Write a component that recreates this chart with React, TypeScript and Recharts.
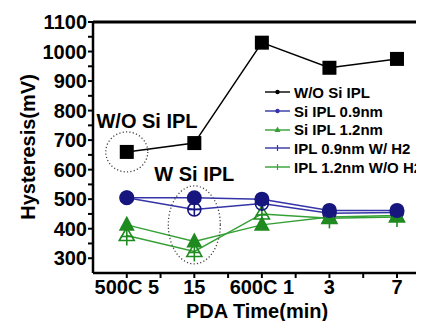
import React from 'react';
import { LineChart, Line, XAxis, YAxis, ReferenceLine, ReferenceDot } from 'recharts';

const categories = ['500C 5', '15', '600C 1', '3', '7'];
const woSiIpl = [660, 690, 1030, 945, 975];
const siIpl09 = [505, 505, 500, 462, 462];
const siIpl12 = [413, 357, 413, 440, 445];
const ipl09H2 = [505, 465, 485, 452, 455];
const ipl12NoH2 = [377, 323, 450, 435, 440];
const yTicks = [300, 350, 400, 450, 500, 550, 600, 650, 700, 750, 800, 850, 900, 950, 1000, 1050, 1100];
const xTicks = [0, 0.5, 1, 1.5, 2, 2.5, 3, 3.5, 4];

const FONT = '"Liberation Sans", Arial, sans-serif';
const NAVY = '#16167e';
const BLUE = '#3434a8';
const GREEN = '#1f8a1f';
const GREEN_LINE = '#36a036';

const data = categories.map((c, i) => ({
  x: i,
  label: c,
  wo: woSiIpl[i],
  s09: siIpl09[i],
  s12: siIpl12[i],
  h09: ipl09H2[i],
  h12: ipl12NoH2[i],
}));

const legendItems = [
  { name: 'W/O Si IPL', color: '#000', marker: 'dot' },
  { name: 'Si IPL 0.9nm', color: BLUE, marker: 'dot' },
  { name: 'Si IPL 1.2nm', color: GREEN_LINE, marker: 'tri' },
  { name: 'IPL 0.9nm W/ H2', color: BLUE, marker: 'plus' },
  { name: 'IPL 1.2nm W/O H2', color: GREEN_LINE, marker: 'plus' },
];

const Square = (p: any) => (
  <rect key={p.key} x={p.cx - 7} y={p.cy - 7} width={14} height={14} fill="#000" />
);
const FilledCircle = (p: any) => (
  <circle key={p.key} cx={p.cx} cy={p.cy} r={7.5} fill={NAVY} />
);
const OpenCircle = (p: any) => (
  <g key={p.key} stroke={NAVY} strokeWidth={1.6} fill="none">
    <circle cx={p.cx} cy={p.cy} r={6.5} />
    <line x1={p.cx - 6.5} y1={p.cy} x2={p.cx + 6.5} y2={p.cy} />
    <line x1={p.cx} y1={p.cy - 6.5} x2={p.cx} y2={p.cy + 6.5} />
  </g>
);
const FilledTri = (p: any) => (
  <polygon key={p.key} points={`${p.cx},${p.cy - 9} ${p.cx - 8},${p.cy + 6} ${p.cx + 8},${p.cy + 6}`} fill={GREEN} />
);
const OpenTri = (p: any) => (
  <g key={p.key} stroke={GREEN} strokeWidth={1.6} fill="none">
    <polygon points={`${p.cx},${p.cy - 8} ${p.cx - 7.5},${p.cy + 5} ${p.cx + 7.5},${p.cy + 5}`} />
    <line x1={p.cx} y1={p.cy - 8} x2={p.cx} y2={p.cy + 10} />
    <line x1={p.cx - 6} y1={p.cy + 1} x2={p.cx + 6} y2={p.cy + 1} />
  </g>
);

const LegendBox = () => (
  <div style={{ position: 'absolute', left: 256, top: 75, fontFamily: FONT, fontSize: 15, fontWeight: 700, color: '#000', pointerEvents: 'none' }}>
    {legendItems.map((it) => (
      <div key={it.name} style={{ display: 'flex', alignItems: 'center', height: 18.7, whiteSpace: 'nowrap' }}>
        <svg width={28} height={12} style={{ marginRight: 2 }}>
          <line x1={1} y1={6} x2={26} y2={6} stroke={it.color} strokeWidth={1.4} />
          {it.marker === 'dot' && <circle cx={13.5} cy={6} r={2.2} fill={it.color} />}
          {it.marker === 'tri' && <polygon points="13.5,2.5 10.5,8 16.5,8" fill={it.color} />}
          {it.marker === 'plus' && <line x1={13.5} y1={3} x2={13.5} y2={9} stroke={it.color} strokeWidth={1.2} />}
        </svg>
        <span>{it.name}</span>
      </div>
    ))}
  </div>
);

const ellipse = (rx: number, ry: number) => (p: any) => (
  <ellipse cx={p.cx} cy={p.cy} rx={rx} ry={ry} fill="none" stroke="#444" strokeWidth={1.3} strokeDasharray="1.2 2.2" />
);
const note = (text: string) => (p: any) => (
  <text x={p.cx} y={p.cy} textAnchor="middle" dominantBaseline="central" fontFamily={FONT} fontSize={20} fontWeight={700} fill="#000">
    {text}
  </text>
);

const XTitle = () => (
  <text x={249} y={303} textAnchor="middle" dominantBaseline="central" fontFamily={FONT} fontSize={20} fontWeight={700} fill="#000">
    PDA Time(min)
  </text>
);
const YTitle = () => (
  <text x={20} y={139} transform="rotate(-90 20 139)" textAnchor="middle" dominantBaseline="central" fontFamily={FONT} fontSize={20} fontWeight={700} fill="#000">
    Hysteresis(mV)
  </text>
);

export default function App() {
  return (
    <div style={{ position: 'relative', width: 416, height: 313, overflow: 'hidden', background: '#fff' }}>
      <LineChart width={416} height={313} data={data} margin={{ top: 14, right: 0, left: 0, bottom: 0 }}>
        <XAxis
          type="number"
          dataKey="x"
          domain={[-0.5, 4.4]}
          ticks={xTicks}
          interval={0}
          tickFormatter={(v: number) => (Number.isInteger(v) ? categories[v] : '')}
          height={48}
          axisLine={{ stroke: '#000', strokeWidth: 2.5 }}
          tickLine={{ stroke: '#000', strokeWidth: 2 }}
          tickSize={5}
          tick={{ fill: '#000', fontSize: 20, fontWeight: 700, fontFamily: FONT }}
          tickMargin={2}
          label={<XTitle />}
        />
        <YAxis
          type="number"
          domain={[250, 1100]}
          ticks={yTicks}
          interval={0}
          width={85}
          axisLine={{ stroke: '#000', strokeWidth: 2.5 }}
          tickLine={{ stroke: '#000', strokeWidth: 2 }}
          tickSize={5}
          tickMargin={1}
          tickFormatter={(v: number) => (v % 100 === 0 ? String(v) : '')}
          tick={{ fill: '#000', fontSize: 20, fontWeight: 700, fontFamily: FONT }}
          label={<YTitle />}
        />
        <ReferenceLine y={1100} stroke="#000" strokeWidth={3} />
        <ReferenceDot x={0} y={660} shape={ellipse(21, 20)} ifOverflow="visible" />
        <ReferenceDot x={1} y={413} shape={ellipse(26, 39)} ifOverflow="visible" />
        <ReferenceDot x={0.3} y={765} shape={note('W/O Si IPL')} ifOverflow="visible" />
        <ReferenceDot x={1} y={585} shape={note('W Si IPL')} ifOverflow="visible" />
        <Line dataKey="h12" stroke={GREEN_LINE} strokeWidth={1.5} dot={OpenTri} isAnimationActive={false} />
        <Line dataKey="h09" stroke={BLUE} strokeWidth={1.5} dot={OpenCircle} isAnimationActive={false} />
        <Line dataKey="s12" stroke={GREEN_LINE} strokeWidth={1.5} dot={FilledTri} isAnimationActive={false} />
        <Line dataKey="s09" stroke={BLUE} strokeWidth={1.5} dot={FilledCircle} isAnimationActive={false} />
        <Line dataKey="wo" stroke="#000" strokeWidth={1.5} dot={Square} isAnimationActive={false} />
      </LineChart>
      <LegendBox />
    </div>
  );
}
